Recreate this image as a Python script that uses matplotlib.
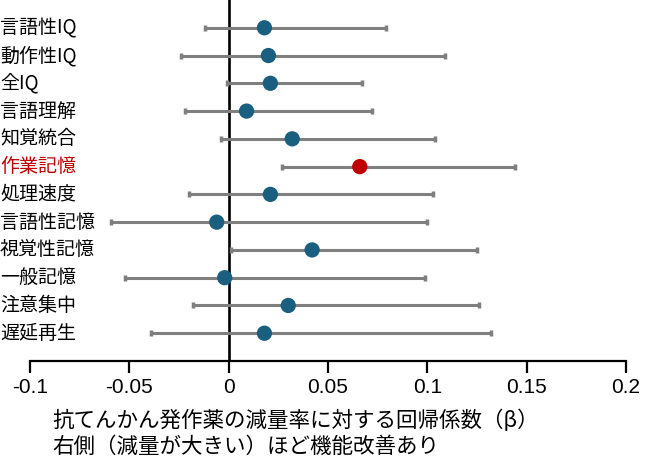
import matplotlib
matplotlib.use("Agg")
import matplotlib.pyplot as plt
import matplotlib.transforms as transforms
import numpy as np

labels = ['言語性IQ', '動作性IQ', '全IQ', '言語理解', '知覚統合', '作業記憶',
          '処理速度', '言語性記憶', '視覚性記憶', '一般記憶', '注意集中', '遅延再生']
beta = [0.018, 0.020, 0.021, 0.009, 0.032, 0.066, 0.021, -0.006, 0.042, -0.002, 0.030, 0.018]
lower = [-0.012, -0.024, -0.001, -0.022, -0.004, 0.027, -0.020, -0.059, 0.001, -0.052, -0.018, -0.039]
upper = [0.079, 0.109, 0.067, 0.072, 0.104, 0.144, 0.103, 0.100, 0.125, 0.099, 0.126, 0.132]
highlight = '作業記憶'
xticks = [-0.1, -0.05, 0, 0.05, 0.1, 0.15, 0.2]
xticklabels = ['-0.1', '-0.05', '0', '0.05', '0.1', '0.15', '0.2']
xlabel = '抗てんかん発作薬の減量率に対する回帰係数（β）\n右側（減量が大きい）ほど機能改善あり'

cjk = ['Noto Sans CJK JP', 'DejaVu Sans']
blue = '#1b5f80'
red = '#c00000'

fig = plt.figure(figsize=(6.5, 4.76), dpi=100)
ax = fig.add_axes([30/650, (476-361)/476, 596/650, 361/476])

y = np.arange(1, len(labels) + 1)
b = np.array(beta)
lo = np.array(lower)
hi = np.array(upper)

ax.axvline(0, color='black', lw=1.9, zorder=1)
ax.errorbar(b, y, xerr=[b - lo, hi - b], fmt='none', ecolor='#7f7f7f',
            elinewidth=2.2, capsize=2, capthick=2.5, zorder=2)
colors = [red if l == highlight else blue for l in labels]
ax.scatter(b, y, s=11**2, c=colors, zorder=3, edgecolors='none')

ax.set_xlim(-0.1, 0.2)
ax.set_ylim(13, 0)
for s in ['left', 'top', 'right']:
    ax.spines[s].set_visible(False)
ax.spines['bottom'].set_linewidth(1.6)
ax.set_yticks([])
ax.set_xticks(xticks)
ax.set_xticklabels(xticklabels, fontfamily='Liberation Sans', fontsize=15)
ax.tick_params(axis='x', length=8.5, width=1.6, direction='out', pad=4)

trans = transforms.blended_transform_factory(fig.transFigure, ax.transData)
for yi, l, c in zip(y, labels, colors):
    ax.text(0.0, yi, l, transform=trans, ha='left', va='center', fontsize=13.7,
            family=cjk, color=(red if l == highlight else 'black'), clip_on=False)

fig.text(52/650, 1 - 434/476, xlabel, ha='left', va='center', fontsize=15.5,
         family=cjk, linespacing=1.25)

fig.savefig('out.png', dpi=100)
